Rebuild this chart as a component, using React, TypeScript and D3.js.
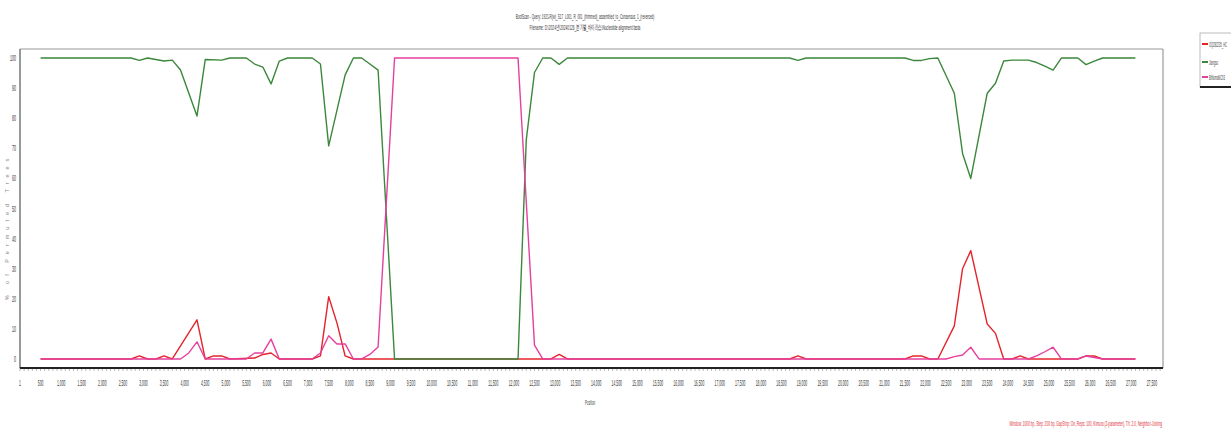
import React from "react";
import * as d3 from "d3";

// ---- data (position bp, % of permuted trees) ----
const seriesNames = ["OQ282235_HC", "Jiangsu", "BtNomaNC03"];
const seriesColors = ["#e3242b", "#3b873b", "#e4409e"];

const redPoints: [number, number][] = [
  [500, 0], [2700, 0], [2900, 1], [3100, 0], [3300, 0], [3500, 1], [3700, 0],
  [4300, 13], [4500, 0], [4700, 1], [4900, 1], [5100, 0], [5700, 0.3], [5900, 1.5],
  [6100, 2], [6300, 0], [7100, 0], [7300, 1], [7500, 20.7], [7700, 12], [7900, 1],
  [8100, 0], [12900, 0], [13100, 1.5], [13300, 0], [18700, 0], [18900, 1], [19100, 0],
  [21500, 0], [21700, 1], [21900, 1], [22100, 0], [22300, 0], [22700, 11], [22900, 30],
  [23100, 36], [23500, 11.6], [23700, 8.5], [23900, 0], [24100, 0], [24300, 1], [24500, 0],
  [25700, 0], [25900, 1], [26100, 1], [26300, 0], [27100, 0],
];

const greenPoints: [number, number][] = [
  [500, 100], [2700, 100], [2900, 99.2], [3100, 100], [3300, 99.5], [3500, 99],
  [3700, 99.3], [3900, 96], [4300, 80.7], [4500, 99.5], [4900, 99.3], [5100, 100],
  [5500, 100], [5700, 98], [5900, 97], [6100, 91.4], [6300, 99], [6500, 100],
  [7100, 100], [7300, 98], [7500, 70.8], [7900, 94.4], [8100, 100], [8300, 100],
  [8500, 98], [8700, 96], [9100, 0], [12100, 0], [12300, 72.8], [12500, 95.2],
  [12700, 100], [12900, 100], [13100, 97.9], [13300, 100], [18700, 100], [18900, 99.2],
  [19100, 100], [21500, 100], [21700, 99.2], [21900, 99.2], [22100, 99.8], [22300, 100],
  [22700, 88.3], [22900, 68.3], [23100, 60], [23500, 88.3], [23700, 91.6], [23900, 99],
  [24100, 99.3], [24500, 99.3], [24700, 98.5], [24900, 97.3], [25100, 96], [25300, 100],
  [25700, 100], [25900, 97.8], [26100, 99], [26300, 100], [27100, 100],
];

const pinkPoints: [number, number][] = [
  [500, 0], [3900, 0], [4100, 2], [4300, 5.7], [4500, 0], [5500, 0], [5700, 2],
  [5900, 2], [6100, 6.6], [6300, 0], [7100, 0], [7300, 2], [7500, 7.7], [7700, 5],
  [7900, 5], [8100, 0], [8300, 0], [8500, 1.5], [8700, 4], [9100, 100], [12100, 100],
  [12500, 4.6], [12700, 0], [22500, 0], [22700, 0.8], [22900, 1.3], [23100, 3.9],
  [23300, 0], [24500, 0], [24700, 1], [24900, 2.4], [25100, 3.9], [25300, 0],
  [25700, 0], [25900, 1], [26100, 0.5], [26300, 0], [27100, 0],
];

const xTickValues = [1, ...d3.range(500, 27501, 500)];
const yTickValues = [0, 10, 20, 30, 40, 50, 60, 70, 80, 90, 100];

const titleLine1 = "BootScan - Query: 1921-R(w)_S17_L001_R_001_(trimmed)_assembled_to_Consensus_1_(reversed)";
const titleLine2 = "Filename: D:\\2024년\\20240126_분기별_바이러스\\Nucleotide alignment.fasta";
const yAxisTitle = "% of Permuted Trees";
const xAxisTitle = "Position";
const caption = "Window: 1000 bp, Step: 200 bp, GapStrip: On, Reps: 100, Kimura (2-parameter), T/t: 2.0, Neighbor-Joining";

const FONT = "'Liberation Sans', Arial, sans-serif";

function NText(props: { x: number; y: number; sx: number; size: number; anchor?: string; fill?: string; children: React.ReactNode }) {
  const { x, y, sx, size, anchor = "start", fill = "#3a3a3a", children } = props;
  return (
    <text transform={`translate(${x},${y}) scale(${sx},1)`} fontSize={size} textAnchor={anchor as any} fill={fill}>
      {children}
    </text>
  );
}

export default function App() {
  const W = 1231, H = 432;
  const left = 20, right = 1163, top = 49, bottom = 368;
  const x = d3.scaleLinear().domain([0, 27770]).range([left, right]);
  const y = d3.scaleLinear().domain([-3, 103]).range([bottom, top]);
  const line = d3.line<[number, number]>().x(d => x(d[0])).y(d => y(d[1]));
  const fmt = d3.format(",");
  const minor = d3.range(0, 27701, 100);
  const all = [redPoints, greenPoints, pinkPoints];

  return (
    <svg width={W} height={H} style={{ position: "absolute", left: 0, top: 0, background: "#fff" }}
      fontFamily={FONT}>
      <rect x={0} y={0} width={W} height={H} fill="#fff" />
      {/* titles */}
      <NText x={585} y={19} sx={0.41} size={7.5} anchor="middle" fill="#333">{titleLine1}</NText>
      <NText x={585} y={30} sx={0.43} size={7.5} anchor="middle" fill="#333">{titleLine2}</NText>

      {/* frame */}
      <line x1={left} x2={right} y1={top} y2={top} stroke="#9a9a9a" strokeWidth={1.2} />
      <line x1={right} x2={right} y1={top} y2={bottom} stroke="#9a9a9a" strokeWidth={1.2} />
      <line x1={left} x2={left} y1={top} y2={bottom} stroke="#555" strokeWidth={1.2} />

      {/* y ticks */}
      {yTickValues.map(v => (
        <NText key={v} x={16} y={y(v) + 3} sx={0.42} size={8.5} anchor="end">{v}</NText>
      ))}
      <text transform={`translate(9,227) rotate(-90)`} fontSize={5.5} textAnchor="middle" fill="#888"
        letterSpacing={5}>{yAxisTitle}</text>

      {/* series */}
      {all.map((pts, i) => (
        <path key={i} d={line(pts) || ""} fill="none" stroke={seriesColors[i]} strokeWidth={1.4} strokeLinejoin="round" />
      ))}

      {/* x axis */}
      {minor.map(v => (
        <line key={v} x1={x(v)} x2={x(v)} y1={bottom} y2={bottom + 3} stroke="#888" strokeWidth={0.6} />
      ))}
      <line x1={left} x2={right} y1={bottom} y2={bottom} stroke="#222" strokeWidth={2} />
      {xTickValues.map(v => (
        <NText key={v} x={x(v)} y={386} sx={0.4} size={8.5} anchor="middle">{fmt(v)}</NText>
      ))}
      <NText x={590} y={405} sx={0.38} size={7.5} anchor="middle">{xAxisTitle}</NText>

      {/* caption */}
      <NText x={1162} y={426} sx={0.43} size={7.5} anchor="end" fill="#e0303a">{caption}</NText>

      {/* legend */}
      <rect x={1200} y={33} width={40} height={54} fill="#fff" stroke="#aaa" strokeWidth={0.8} />
      <line x1={1200} x2={1231} y1={87} y2={87} stroke="#222" strokeWidth={2} />
      {seriesNames.map((n, i) => {
        const ly = [44, 62, 77][i];
        return (
          <g key={n}>
            <line x1={1202} x2={1208} y1={ly} y2={ly} stroke={seriesColors[i]} strokeWidth={2} />
            <NText x={1209} y={ly + 2.5} sx={0.4} size={6.5}>{n}</NText>
          </g>
        );
      })}
    </svg>
  );
}
